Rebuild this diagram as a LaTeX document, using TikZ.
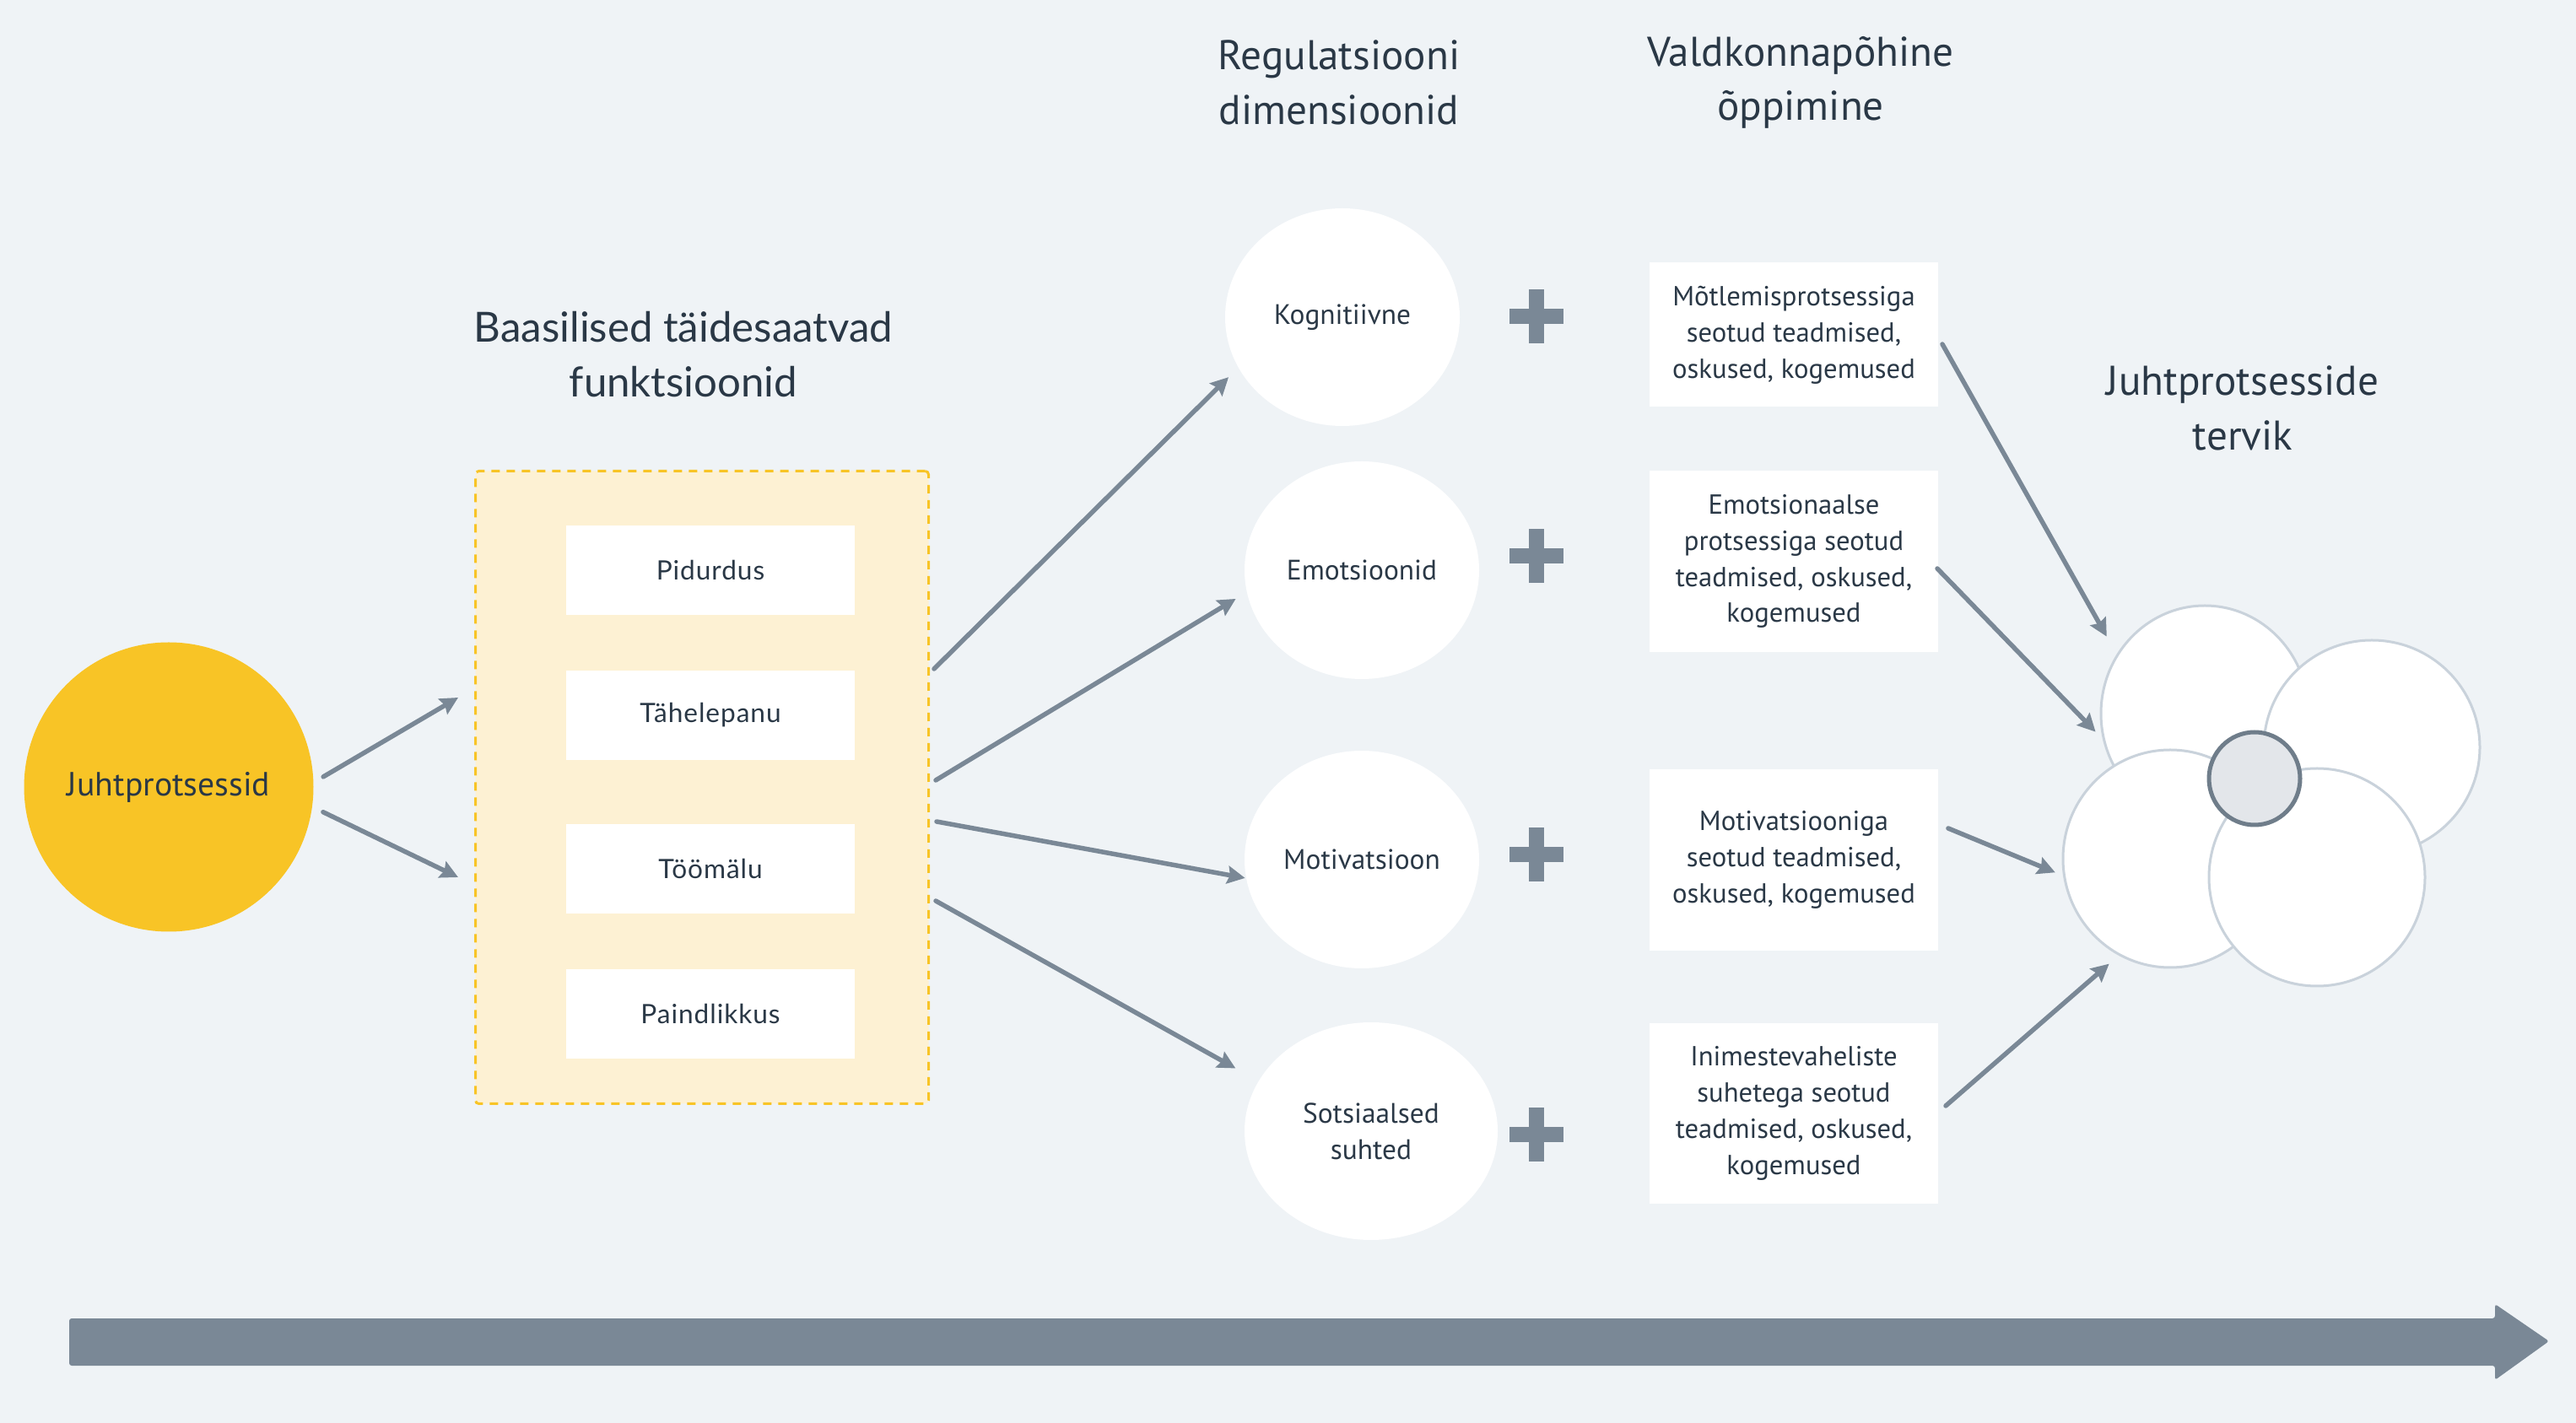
\documentclass[tikz,border=0pt]{standalone}
\usepackage{fontspec}
\setmainfont{PT Sans}
\newfontfamily\latofont[LetterSpace=3]{Lato}
\newfontfamily\latotitle{Lato}
\usetikzlibrary{arrows.meta, shapes.geometric}

\definecolor{bgcol}{HTML}{EFF3F6}
\definecolor{txtcol}{HTML}{2A3846}
\definecolor{arrcol}{HTML}{7A8896}
\definecolor{juhtcol}{HTML}{F8C426}
\definecolor{funcol}{HTML}{FDF1D3}
\definecolor{petalcol}{HTML}{C9D2DB}
\definecolor{corecol}{HTML}{E3E6EA}
\definecolor{coreline}{HTML}{6F7D8A}

\begin{document}
\begin{tikzpicture}[thick]

    \tikzset{arr/.style={%
      draw=arrcol,%
      line width=0.055cm,%
      line cap=round,%
      -{Stealth[length=0.21cm, width=0.21cm, inset=0.03cm]}}%
    };

    \tikzset{block/.style={%
      fill=white,%
      rectangle,%
      inner sep=0pt,%
      minimum width=3.42cm,%
      minimum height=1.06cm,%
      text=txtcol,%
      font=\latofont\fontsize{9}{11}\selectfont}%
    };

    \tikzset{infoblock/.style={block, minimum height=2.15cm, align=center,
      font=\fontsize{9.3}{12.2}\selectfont}};
    \tikzset{dimension/.style={ellipse, fill=white, inner sep=0pt,
      minimum width=2.78cm, minimum height=2.58cm, align=center,
      text=txtcol, font=\fontsize{9.5}{12.2}\selectfont}};
    \tikzset{petal/.style={ellipse, fill=white, draw=petalcol,
      line width=0.03cm, inner sep=0pt}};
    \tikzset{heading/.style={align=center, text=txtcol,
      font=\fontsize{14}{18.3}\selectfont}};
    \tikzset{plusmark/.style={draw=arrcol, line width=0.18cm}};

    % background
    \fill [bgcol] (0, 0) rectangle (30.53, -16.87);

    %%%%%%%%%%%%%%%
    %  headings   %
    %%%%%%%%%%%%%%%
    \node [heading, font=\latotitle\fontsize{14}{18.5}\selectfont] (funt) at (8.10, -4.20)
      {Baasilised täidesaatvad\\funktsioonid};
    \node [heading] (regt) at (15.87, -0.98) {Regulatsiooni\\dimensioonid};
    \node [heading] (valt) at (21.34, -0.98) {Valdkonnapõhine\\õppimine};
    \node [heading] (tert) at (26.58, -4.84) {Juhtprotsesside\\tervik};

    %%%%%%%%%%%%%%%
    %  functions  %
    %%%%%%%%%%%%%%%
    \node [circle, fill=juhtcol, minimum size=3.43cm, inner sep=0pt, text=txtcol,
      font=\fontsize{11.3}{13}\selectfont] (jps) at (2.00, -9.33) {Juhtprotsessid};

    \node [draw=juhtcol, fill=funcol, dashed, dash pattern=on 0.10cm off 0.08cm,
      line width=0.03cm, rounded corners=0.04cm, minimum width=5.37cm,
      minimum height=7.50cm] (fun) at (8.32, -9.335) {};

    \node [block] (pid) at (8.42, -6.76) {Pidurdus};
    \node [block] (tah) at (8.42, -8.48) {Tähelepanu};
    \node [block] (too) at (8.42, -10.30) {Töömälu};
    \node [block] (pai) at (8.42, -12.02) {Paindlikkus};

    %%%%%%%%%%%%%%%
    % dimensions  %
    %%%%%%%%%%%%%%%
    \node [dimension] (kog) at (15.91, -3.76) {Kognitiivne};
    \node [dimension] (emo) at (16.14, -6.76) {Emotsioonid};
    \node [dimension] (mot) at (16.14, -10.19) {Motivatsioon};
    \node [dimension, minimum width=3.0cm] (sot) at (16.25, -13.41) {Sotsiaalsed\\suhted};

    \foreach \y in {-3.75, -6.59, -10.13, -13.45}
      \draw [plusmark] (17.89, \y) -- (18.53, \y) (18.21, \y - 0.32) -- (18.21, \y + 0.32);

    \node [infoblock, minimum height=1.71cm] (mtl) at (21.26, -3.97)
      {Mõtlemisprotsessiga\\seotud teadmised,\\oskused, kogemused};
    \node [infoblock] (ems) at (21.26, -6.655)
      {Emotsionaalse\\protsessiga seotud\\teadmised, oskused,\\kogemused};
    \node [infoblock] (mts) at (21.26, -10.195)
      {Motivatsiooniga\\seotud teadmised,\\oskused, kogemused};
    \node [infoblock, minimum height=2.14cm] (ims) at (21.26, -13.20)
      {Inimestevaheliste\\suhetega seotud\\teadmised, oskused,\\kogemused};

    %%%%%%%%%%%%%%%
    %   flower    %
    %%%%%%%%%%%%%%%
    \node [petal, minimum width=2.46cm, minimum height=2.56cm] (ptl) at (26.13, -8.46) {};
    \node [petal, minimum width=2.56cm, minimum height=2.54cm] (ptr) at (28.11, -8.86) {};
    \node [petal, minimum width=2.54cm, minimum height=2.58cm] (pbl) at (25.72, -10.18) {};
    \node [petal, minimum width=2.56cm, minimum height=2.58cm] (pbr) at (27.46, -10.40) {};
    \node [ellipse, fill=corecol, draw=coreline, line width=0.05cm, inner sep=0pt,
      minimum width=1.08cm, minimum height=1.10cm] (cor) at (26.72, -9.23) {};

    %%%%%%%%%%%%%%%
    %   arrows    %
    %%%%%%%%%%%%%%%
    \path (5.43, -8.27) coordinate (ina);
    \path (5.43, -10.40) coordinate (inb);
    \path (11.07, -7.93) coordinate (oka);
    \path (11.09, -9.25) coordinate (okb);
    \path (11.10, -9.74) coordinate (okc);
    \path (11.09, -10.68) coordinate (okd);
    \path (23.02, -4.08) coordinate (ora);
    \path (22.96, -6.74) coordinate (orb);
    \path (23.09, -9.82) coordinate (orc);
    \path (23.06, -13.11) coordinate (ord);

    \draw [arr, shorten <=0.12cm] (jps.2) -- (ina);
    \draw [arr, shorten <=0.13cm] (jps.-8) -- (inb);

    \draw [arr, shorten >=0.15cm] (oka) -- (kog.206);
    \draw [arr, shorten >=0.14cm] (okb) -- (emo.191);
    \draw [arr] (okc) -- (mot.189);
    \draw [arr, shorten >=0.30cm] (okd) -- (sot.156);

    \draw [arr, shorten >=0.24cm] (ora) -- (ptl.146);
    \draw [arr, shorten >=0.12cm] (orb) -- (ptl.194);
    \draw [arr, shorten >=0.10cm] (orc) -- (pbl.189);
    \draw [arr, shorten >=0.15cm] (ord) -- (pbl.242);

    % time line
    \fill [arrcol, rounded corners=0.03cm] (0.82, -15.63) -- (29.57, -15.63) -- (29.57, -15.46)
      -- (30.21, -15.90) -- (29.57, -16.36) -- (29.57, -16.19) -- (0.82, -16.19) -- cycle;

  \end{tikzpicture}
\end{document}
